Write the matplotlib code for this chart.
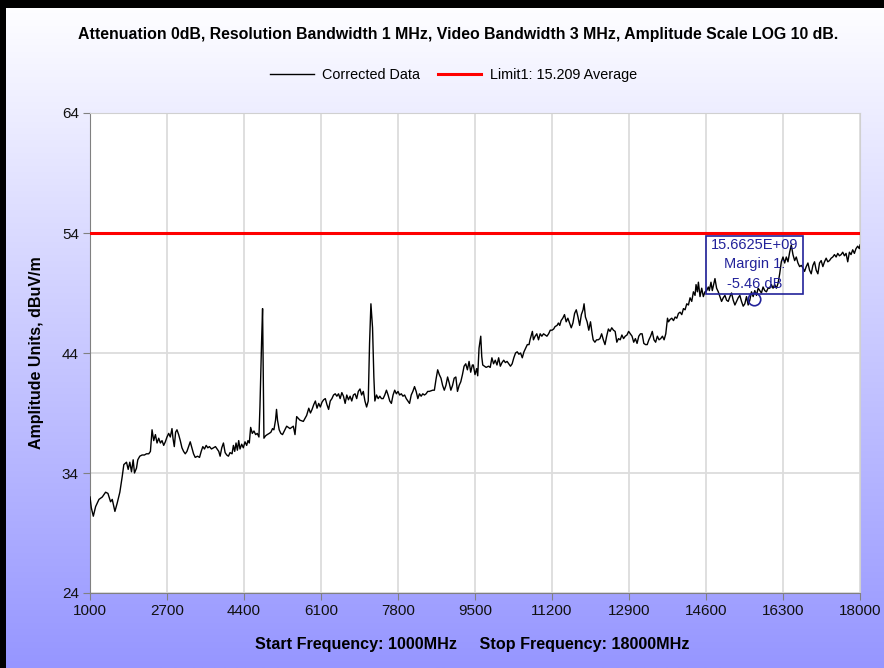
import numpy as np
import matplotlib
matplotlib.use("Agg")
import matplotlib.pyplot as plt
from matplotlib.patches import Rectangle

# ---------------- data ----------------
freq_mhz = [
    1000, 1029, 1073, 1124, 1198, 1271, 1344, 1396, 1454, 1491, 1550, 1601, 1659, 1711, 1747, 1806,
    1843, 1879, 1916, 1953, 1982, 2026, 2055, 2099, 2150, 2202, 2246, 2297, 2334, 2370, 2407, 2444,
    2480, 2517, 2554, 2590, 2627, 2663, 2700, 2737, 2773, 2810, 2832, 2861, 2890, 2920, 2957, 2993,
    3030, 3066, 3103, 3140, 3176, 3213, 3250, 3286, 3323, 3374, 3418, 3455, 3491, 3528, 3565, 3601,
    3638, 3682, 3726, 3770, 3807, 3843, 3873, 3909, 3946, 3983, 4019, 4056, 4092, 4136, 4166, 4195,
    4224, 4254, 4283, 4312, 4349, 4385, 4422, 4459, 4488, 4517, 4547, 4583, 4620, 4657, 4693, 4730,
    4752, 4788, 4810, 4825, 4840, 4876, 4913, 4957, 4994, 5030, 5060, 5096, 5118, 5140, 5177, 5213,
    5250, 5342, 5416, 5489, 5526, 5563, 5636, 5710, 5783,
    5830, 5867, 5903, 5940, 5976, 6012, 6049, 6085, 6122, 6158, 6195, 6231, 6268, 6304, 6341, 6377,
    6414, 6450, 6487, 6523, 6560, 6596, 6633, 6669, 6706, 6742, 6779, 6815, 6852, 6888, 6924, 6961,
    6997, 7034, 7070, 7107, 7143, 7172, 7202, 7238, 7267, 7289, 7326, 7362, 7399, 7435, 7472, 7508,
    7545, 7581, 7618, 7654, 7691, 7727, 7764, 7800, 7836, 7873, 7909, 7946, 7982, 8019, 8055, 8092,
    8128, 8165, 8201, 8238, 8274, 8311, 8347, 8384, 8420, 8456, 8493, 8566, 8603, 8639, 8676, 8712,
    8749, 8785, 8822, 8858, 8895, 8931, 8967, 9004, 9040, 9077, 9113, 9150, 9186, 9223, 9259, 9296,
    9332, 9369, 9405, 9442,
    9463, 9500, 9537, 9560, 9589, 9627, 9649, 9671, 9709, 9746, 9798, 9836, 9873, 9910, 9947, 9985,
    10022, 10059, 10096, 10134, 10171, 10208, 10246, 10283, 10320, 10357, 10395, 10432, 10469, 10506,
    10544, 10581, 10618, 10655, 10693, 10715, 10745, 10767, 10790, 10827, 10864, 10902, 10939, 10976,
    11013, 11051, 11088, 11125, 11162, 11200, 11237, 11267, 11312, 11341, 11371, 11401, 11438, 11476,
    11513, 11550, 11587, 11625, 11662, 11699, 11736, 11774, 11811, 11848, 11886, 11908, 11938, 11975,
    12012, 12050, 12087, 12109, 12147, 12184, 12221, 12258, 12296, 12333, 12370, 12407, 12445, 12482,
    12519, 12557, 12594, 12631, 12668, 12706, 12743, 12780, 12817, 12855, 12892, 12929, 12967, 13004,
    13041, 13078, 13116, 13153, 13190, 13227, 13265, 13302, 13339, 13377, 13414, 13451, 13488, 13526,
    13563, 13600, 13638, 13675, 13712, 13750,
    13772, 13809, 13845, 13882, 13919, 13955, 13992, 14028, 14065, 14102, 14138, 14175, 14212, 14248,
    14285, 14322, 14358, 14380, 14410, 14432, 14468, 14505, 14541, 14578, 14615, 14651, 14673, 14710,
    14739, 14769, 14798, 14834, 14871, 14908, 14944, 14981, 15018, 15054, 15091, 15128, 15164, 15201,
    15238, 15274, 15311, 15347, 15384, 15421, 15457, 15494, 15531, 15567, 15604, 15641, 15677, 15714,
    15751, 15787, 15824, 15860, 15897, 15934, 15970, 16007, 16044, 16080, 16117, 16154, 16190, 16227,
    16263, 16300, 16337, 16373, 16410, 16447, 16483, 16520, 16557, 16593, 16630, 16667, 16703, 16740,
    16776, 16813, 16850, 16886, 16923, 16960, 16996, 17033, 17070, 17106, 17143, 17180, 17216, 17253,
    17289, 17326, 17363, 17399, 17436, 17473, 17509, 17546, 17583, 17619, 17656, 17692, 17729, 17766,
    17802, 17839, 17876, 17912, 17949, 17985, 18000,
]

level_dbuv = [
    32.0, 31.1, 30.4, 31.2, 31.8, 32.0, 32.4, 32.3, 31.6, 31.8, 30.8, 31.5, 32.4, 33.7, 34.7, 34.9,
    34.3, 34.9, 34.1, 35.1, 34.0, 34.4, 35.1, 35.4, 35.5, 35.5, 35.6, 35.6, 35.8, 37.6, 36.7, 37.2,
    36.5, 36.9, 36.5, 36.7, 36.3, 36.6, 37.0, 37.3, 37.0, 37.7, 36.9, 36.2, 37.4, 37.6, 37.2, 36.7,
    36.1, 35.8, 35.6, 35.8, 36.2, 36.6, 36.1, 35.6, 35.3, 35.4, 35.3, 35.8, 36.2, 36.0, 36.3, 36.1,
    36.2, 36.0, 36.1, 36.2, 36.0, 35.8, 35.4, 36.1, 36.5, 35.7, 35.5, 35.4, 35.7, 35.6, 36.3, 35.8,
    36.5, 35.9, 36.7, 36.0, 36.4, 36.1, 36.6, 36.3, 36.7, 36.5, 37.8, 37.3, 37.5, 37.2, 37.3, 37.0,
    39.5, 44.9, 47.7, 42.3, 36.9, 37.1, 37.2, 37.3, 37.4, 37.7, 37.6, 38.4, 39.3, 38.4, 37.6, 37.3,
    37.2, 37.9, 37.7, 37.9, 37.2, 38.7, 38.4, 38.3, 38.8,
    39.4, 39.0, 39.3, 39.7, 40.0, 39.4, 39.8, 39.5, 39.9, 40.1, 40.2, 39.7, 39.3, 40.0, 40.2, 40.5,
    40.6, 40.4, 40.6, 40.2, 40.7, 40.4, 39.8, 40.5, 40.1, 40.4, 40.0, 40.5, 40.6, 40.2, 40.8, 41.0,
    40.5, 40.8, 40.0, 39.5, 40.0, 44.8, 48.1, 46.1, 42.0, 40.0, 40.5, 40.2, 40.4, 40.2, 40.2, 40.5,
    40.9, 40.5, 40.0, 39.8, 40.5, 40.9, 40.6, 40.8, 40.5, 40.6, 40.4, 40.5, 40.2, 40.0, 39.8, 40.5,
    40.8, 41.2, 40.8, 40.2, 40.6, 40.4, 40.6, 40.5, 40.6, 40.8, 40.8, 40.9, 40.9, 41.8, 42.6, 42.2,
    41.9, 41.3, 40.9, 41.3, 42.0, 41.5, 40.9, 41.3, 41.9, 42.0, 40.8, 41.3, 41.6, 42.2, 42.9, 43.1,
    42.6, 43.3, 42.4, 43.0,
    43.0, 42.2, 42.7, 42.1, 44.4, 45.4, 43.7, 43.0, 42.9, 42.8, 42.9, 42.8, 43.6, 43.1, 43.4, 43.0,
    43.6, 42.9, 43.2, 43.4, 43.2, 43.3, 43.1, 42.9, 43.1, 43.6, 44.0, 44.1, 43.9, 44.0,
    43.6, 44.1, 44.4, 44.7, 44.7, 45.1, 45.5, 45.8, 45.1, 45.4, 45.6, 45.1, 45.6, 45.4,
    45.6, 45.5, 45.4, 45.6, 45.9, 45.9, 46.0, 46.2, 46.3, 46.5, 46.3, 46.7, 46.9, 47.2,
    46.6, 46.9, 46.5, 46.1, 46.5, 47.3, 47.6, 47.0, 46.3, 47.2, 47.6, 48.1, 47.0, 46.6,
    45.9, 46.6, 45.6, 45.1, 44.9, 45.1, 45.1, 45.2, 45.6, 45.1, 44.7, 45.4, 46.0, 45.8,
    46.1, 45.9, 45.8, 44.9, 45.2, 45.1, 45.5, 45.2, 45.4, 45.5, 45.8, 45.6, 45.4, 44.9,
    45.2, 44.8, 45.4, 45.6, 45.6, 44.8, 44.7, 44.7, 45.1, 45.4, 45.8, 45.1, 44.9, 45.4,
    45.1, 45.2, 45.4, 45.1, 45.6, 46.9,
    46.6, 46.8, 46.9, 46.7, 47.0, 46.9, 47.3, 47.4, 47.2, 47.7, 47.6, 48.1, 48.0, 48.6,
    48.3, 49.1, 48.8, 49.7, 49.1, 49.9, 48.7, 49.4, 48.7, 49.1, 49.2, 49.5, 49.2, 49.9,
    49.2, 49.7, 50.2, 49.4, 49.1, 48.7, 48.3, 48.6, 48.8, 48.4, 48.3, 48.7, 49.0, 48.4,
    48.0, 48.3, 48.6, 48.8, 48.3, 47.9, 48.1, 48.7, 48.0, 48.4, 49.1, 48.7, 49.2, 48.8,
    49.4, 49.2, 49.0, 49.5, 49.2, 49.1, 49.4, 49.4, 49.7, 49.4, 49.7, 49.4, 49.8, 50.6,
    51.6, 52.0, 51.5, 52.0, 51.6, 52.4, 53.0, 52.2, 51.7, 52.0, 51.5, 51.2, 51.3, 51.1,
    50.8, 51.2, 51.5, 50.9, 50.6, 51.3, 51.6, 50.9, 50.6, 51.5, 51.7, 51.2, 51.6, 51.9,
    51.6, 51.7, 51.9, 52.0, 52.2, 52.0, 52.3, 52.1, 52.2, 52.4, 52.1, 52.3, 51.6, 52.4,
    52.2, 52.6, 52.3, 52.7, 52.9, 52.7, 53.0,
]

limit_level = 54.0
marker_freq = 15662.5
marker_margin = -5.46

x_ticks = [1000, 2700, 4400, 6100, 7800, 9500, 11200, 12900, 14600, 16300, 18000]
y_ticks = [24, 34, 44, 54, 64]

title_text = "Attenuation 0dB, Resolution Bandwidth 1 MHz, Video Bandwidth 3 MHz, Amplitude Scale LOG 10 dB."
legend_labels = ["Corrected Data", "Limit1: 15.209 Average"]
x_label = "Start Frequency: 1000MHz     Stop Frequency: 18000MHz"
y_label = "Amplitude Units, dBuV/m"

# ---------------- figure ----------------
plt.rcParams['font.family'] = ['Liberation Sans', 'DejaVu Sans']

W, H = 884, 668
fig = plt.figure(figsize=(W / 100, H / 100), dpi=100)

# background gradient
bg = fig.add_axes([0, 0, 1, 1], zorder=-10)
n = 400
t = np.linspace(0, 1, n)[:, None]
top = np.array([255, 255, 255]) / 255.0
bot = np.array([150, 150, 255]) / 255.0
grad = top[None, None, :] * (1 - t[:, :, None]) + bot[None, None, :] * t[:, :, None]
grad = np.repeat(grad, 2, axis=1)
bg.imshow(grad, aspect='auto', extent=[0, 1, 0, 1], origin='upper')
bg.set_xlim(0, 1)
bg.set_ylim(0, 1)
bg.axis('off')

# black frame on top and left
fig.patches.append(Rectangle((0, 1 - 8 / H), 1, 8 / H, transform=fig.transFigure,
                             facecolor='black', edgecolor='none', zorder=5))
fig.patches.append(Rectangle((0, 0), 6 / W, 1, transform=fig.transFigure,
                             facecolor='black', edgecolor='none', zorder=5))

ax = fig.add_axes([90 / W, 1 - 593 / H, (860 - 90) / W, (593 - 113) / H])
ax.set_facecolor('white')

ax.plot(freq_mhz, level_dbuv, color='black', lw=1.0, zorder=3, label=legend_labels[0])
ax.axhline(limit_level, color='#ff0000', lw=2.2, zorder=4, label=legend_labels[1])

ax.set_xlim(x_ticks[0], x_ticks[-1])
ax.set_ylim(y_ticks[0], y_ticks[-1])
ax.set_xticks(x_ticks)
ax.set_yticks(y_ticks)
ax.set_xticklabels([str(v) for v in x_ticks])
ax.set_yticklabels([str(v) for v in y_ticks])
ax.grid(True, color='#dcdcdc', lw=1.3, zorder=0)
ax.set_axisbelow(True)
for s in ['top', 'right']:
    ax.spines[s].set_color('#d0d0d0')
for s in ['left', 'bottom']:
    ax.spines[s].set_color('#808080')
ax.tick_params(axis='both', direction='out', length=5, color='#808080',
               labelsize=11, pad=3, labelcolor='#111111')

# marker annotation
navy = '#22229a'
marker_level = limit_level + marker_margin
ax.plot([marker_freq], [marker_level], marker='o', ms=9, mfc='none', mec=navy, mew=1.2, zorder=6)
box_x0, box_x1 = 14600, 16742
box_y0, box_y1 = 48.9, 53.75
ax.add_patch(Rectangle((box_x0, box_y0), box_x1 - box_x0, box_y1 - box_y0,
                       facecolor='none', edgecolor=navy, lw=1.2, zorder=6))
bx = (box_x0 + box_x1) / 2
ax.text(bx, 53.0, "15.6625E+09", ha='center', va='center', color=navy, fontsize=10.5, zorder=7)
ax.text(bx, 51.4, "Margin 1:", ha='center', va='center', color=navy, fontsize=10.5, zorder=7)
ax.text(bx, 49.75, "%.2f dB" % marker_margin, ha='center', va='center', color=navy, fontsize=10.5, zorder=7)

fig.text(458.5 / W, 1 - 35 / H, title_text, ha='center', va='center',
         fontsize=11.4, fontweight='bold', color='black')
fig.text(472.5 / W, 1 - 645 / H, x_label, ha='center', va='center',
         fontsize=11.6, fontweight='bold', color='black')
fig.text(37 / W, 1 - 353 / H, y_label, ha='center', va='center', rotation=90,
         fontsize=11.5, fontweight='bold', color='black')

handles, labels = ax.get_legend_handles_labels()
fig.legend(handles, labels, loc='center', bbox_to_anchor=(453.5 / W, 1 - 75 / H), ncol=2,
           frameon=False, fontsize=10.4, handlelength=3.0, columnspacing=1.2, handletextpad=0.6)

fig.savefig('out.png', dpi=100)
